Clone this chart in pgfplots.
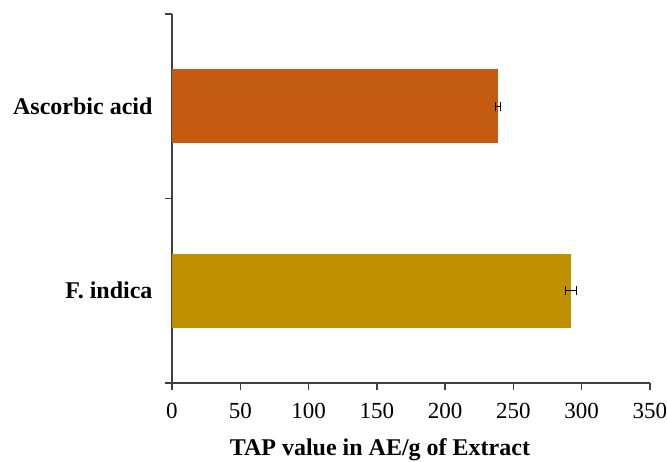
\documentclass[border=0pt]{standalone}
\usepackage{pgfplots}
\pgfplotsset{compat=1.18}
\usepackage{fontspec}
\setmainfont{Liberation Serif}
\definecolor{barA}{HTML}{C55A11}
\definecolor{barF}{HTML}{BF9000}
\definecolor{axgray}{HTML}{404040}
\begin{document}
\begin{tikzpicture}
\begin{axis}[
  at={(0,0)}, anchor=south west,
  scale only axis, width=478pt, height=369pt,
  xmin=0, xmax=350, ymin=-0.5, ymax=1.5,
  axis x line=bottom, axis y line=left,
  axis line style={-, color=axgray, line width=1.3pt},
  every tick/.style={color=axgray, line width=1.3pt},
  tick align=outside, major tick length=7pt,
  xtick={0,50,...,350},
  ytick={-0.5,0.5,1.5}, yticklabels={},
  extra y ticks={0,1},
  extra y tick labels={F. indica, Ascorbic acid},
  extra y tick style={major tick length=0pt, yticklabel style={font=\fontsize{24}{28}\selectfont\bfseries, xshift=-16pt}},
  /pgf/number format/assume math mode=true,
  xticklabel style={font=\fontsize{23}{27}\selectfont, yshift=-10pt},
  xlabel={\textbf{TAP value in AE/g of Extract}},
  xlabel style={font=\fontsize{24}{28}\selectfont, at={(axis description cs:0.435,0)}, anchor=base, yshift=-72pt},
  clip=false,
]
\addplot[xbar, bar width=74pt, bar shift=0pt, fill=barF, draw=none,
  error bars/.cd, x dir=both, x explicit,
  error bar style={black, line width=1pt},
  error mark options={rotate=90, mark size=4.5pt, black, line width=1pt}]
  coordinates {(292.2,0) +- (4.2,0)};
\addplot[xbar, bar width=74pt, bar shift=0pt, fill=barA, draw=none,
  error bars/.cd, x dir=both, x explicit,
  error bar style={black, line width=1pt},
  error mark options={rotate=90, mark size=4.5pt, black, line width=1pt}]
  coordinates {(238.7,1) +- (1.5,0)};
\end{axis}
\pgfresetboundingbox
\useasboundingbox (-172pt,-78pt) rectangle (495pt,383pt);
\end{tikzpicture}
\end{document}
